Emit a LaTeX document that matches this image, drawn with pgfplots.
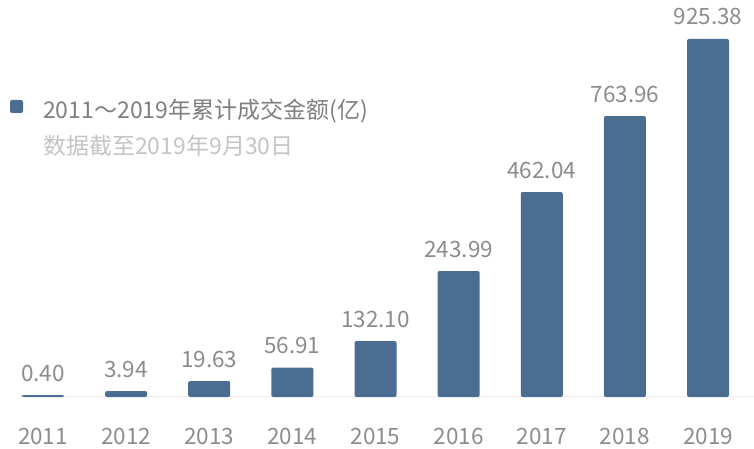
\documentclass[border=0pt]{standalone}
\usepackage{pgfplots}
\pgfplotsset{compat=1.18}
\usepackage{fontspec}
\setmainfont{Noto Sans CJK SC}
\definecolor{barc}{HTML}{4A6D91}
\definecolor{lblc}{HTML}{8C8C8C}
\definecolor{leg1}{HTML}{7F7F7F}
\definecolor{leg2}{HTML}{C4C4C4}
\definecolor{basec}{HTML}{EDEDED}
\begin{document}
\begin{tikzpicture}[x=1pt,y=1pt]
\useasboundingbox (0,0) rectangle (754,448);
\clip (0,0) rectangle (754,448);
\begin{axis}[
  at={(0pt,51pt)}, anchor=south west,
  scale only axis, width=754pt, height=397pt,
  xmin=-0.517, xmax=8.553, ymin=0, ymax=397,
  axis line style={draw=none},
  ytick=\empty,
  xtick={0,1,2,3,4,5,6,7,8},
  xticklabels={2011,2012,2013,2014,2015,2016,2017,2018,2019},
  major tick length=0pt,
  xticklabel style={anchor=base, yshift=-47pt, font=\fontsize{22.5pt}{26pt}\selectfont, text=lblc},
  clip=false,
  ybar, bar width=42pt,
  nodes near coords, point meta=explicit symbolic,
  every node near coord/.append style={anchor=base, yshift=14pt, font=\fontsize{22.5pt}{26pt}\selectfont, text=lblc},
]
\draw[basec, line width=1pt] (axis cs:-0.277,0.5) -- (axis cs:8.553,0.5);
\addplot[fill=barc, draw=none, rounded corners=2pt] table[meta=lbl] {
x y lbl
0 2 0.40
1 6 3.94
2 16 19.63
3 29.5 56.91
4 56 132.10
5 126 243.99
6 205 462.04
7 281 763.96
8 358 925.38
};
\end{axis}
\fill[barc, rounded corners=2pt] (10,335) rectangle (23,348);
\node[anchor=base west, inner sep=0pt, text=leg1, font=\fontsize{23pt}{27pt}\selectfont] at (43,330) {2011～2019年累计成交金额(亿)};
\node[anchor=base west, inner sep=0pt, text=leg2, font=\fontsize{23pt}{27pt}\selectfont] at (43,294) {数据截至2019年9月30日};
\end{tikzpicture}
\end{document}
